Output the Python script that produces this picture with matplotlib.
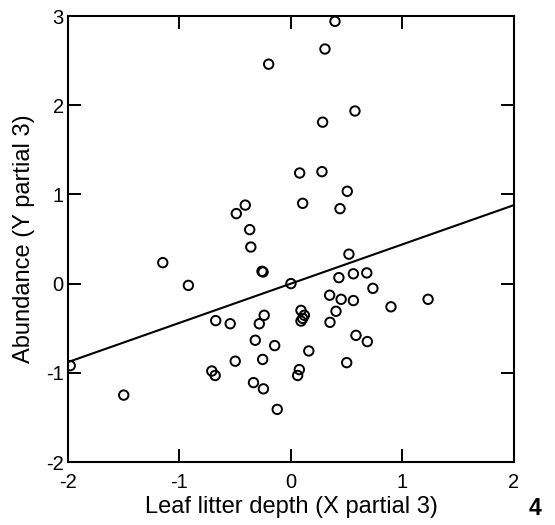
import numpy as np
import matplotlib.pyplot as plt

plt.rcParams['font.family'] = ['Liberation Sans', 'DejaVu Sans']
plt.rcParams['axes.unicode_minus'] = False

# partial residuals
x_partial = [-0.20, -0.49, -0.41, -0.37, -0.36, -1.15, -0.26, -0.25,
             0.395, 0.305, 0.574, 0.284, 0.078, 0.278, 0.505, 0.105,
             0.44, 0.52, -0.92, -1.98, -1.50, -0.675, -0.545, -0.284,
             -0.24, -0.32, -0.146, -0.50, -0.254, -0.71, -0.68, -0.336,
             -0.247, -0.123, 0.0, 0.43, 0.56, 0.68, 0.735, 0.347,
             0.45, 0.56, 1.23, 0.897, 0.404, 0.09, 0.12, 0.105,
             0.09, 0.35, 0.583, 0.685, 0.16, 0.50, 0.075, 0.06]
y_partial = [2.46, 0.785, 0.88, 0.605, 0.41, 0.235, 0.138, 0.13,
             2.94, 2.63, 1.935, 1.81, 1.24, 1.255, 1.035, 0.90,
             0.84, 0.33, -0.02, -0.92, -1.25, -0.415, -0.45, -0.45,
             -0.355, -0.635, -0.695, -0.87, -0.85, -0.98, -1.03, -1.11,
             -1.18, -1.41, 0.0, 0.067, 0.11, 0.12, -0.053, -0.13,
             -0.176, -0.19, -0.176, -0.26, -0.31, -0.30, -0.355, -0.39,
             -0.42, -0.434, -0.58, -0.65, -0.755, -0.886, -0.964, -1.03]

# fitted partial regression line
slope = 0.44
intercept = 0.0
line_x = [-2, 2]

fig = plt.figure(figsize=(5.55, 5.25), dpi=100)
ax = fig.add_axes([0.1225, 0.12, 0.8035, 0.8495])

ax.scatter(x_partial, y_partial, s=46, facecolors='none', edgecolors='black',
           linewidths=1.4, zorder=3)
ax.plot(line_x, [slope * v + intercept for v in line_x], color='black', lw=1.5, zorder=2)

ax.set_xlim(-2, 2)
ax.set_ylim(-2, 3)
ax.set_xticks([-2, -1, 0, 1, 2])
ax.set_yticks([-2, -1, 0, 1, 2, 3])
ax.tick_params(direction='in', length=9.5, width=1.4, top=True, right=True,
               labelsize=14.5)
ax.tick_params(axis='x', pad=8)
ax.tick_params(axis='y', pad=3)
for s in ax.spines.values():
    s.set_linewidth(1.5)

ax.set_xlabel("Leaf litter depth (X partial 3)", fontsize=17, labelpad=3)
ax.set_ylabel("Abundance (Y partial 3)", fontsize=17, labelpad=8)

fig.text(0.964, 0.032, "4", fontsize=16.5, fontweight='bold', ha='center', va='center')

fig.savefig("out.png", dpi=100)
